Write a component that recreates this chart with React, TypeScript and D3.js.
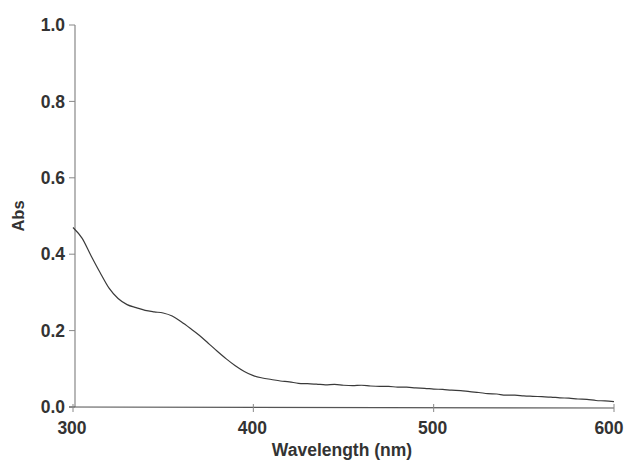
import React from "react";
import * as d3 from "d3";

const wavelengths: number[] = d3.range(300, 601, 5);
const absorbance: number[] = [
  0.470, 0.442, 0.396, 0.352, 0.311, 0.284, 0.268, 0.260, 0.253, 0.249,
  0.246, 0.238, 0.223, 0.206, 0.188, 0.167, 0.146, 0.126, 0.108, 0.093,
  0.082, 0.076, 0.072, 0.068, 0.066, 0.062, 0.061, 0.060, 0.058, 0.059,
  0.057, 0.056, 0.057, 0.055, 0.054, 0.054, 0.052, 0.052, 0.050, 0.049,
  0.047, 0.046, 0.044, 0.043, 0.040, 0.038, 0.035, 0.034, 0.031, 0.031,
  0.029, 0.028, 0.027, 0.026, 0.024, 0.023, 0.021, 0.020, 0.017, 0.016, 0.014,
];
const xTicks: number[] = [300, 400, 500, 600];
const yTicks: number[] = [0.0, 0.2, 0.4, 0.6, 0.8, 1.0];
const xLabel = "Wavelength (nm)";
const yLabel = "Abs";

export default function App() {
  const W = 626, H = 466;
  const x = d3.scaleLinear().domain([300, 600]).range([73, 614]);
  const y = d3.scaleLinear().domain([0, 1]).range([407, 25]);
  const data = wavelengths.map((w, i) => [w, absorbance[i]] as [number, number]);
  const line = d3.line<[number, number]>().x(d => x(d[0])).y(d => y(d[1])).curve(d3.curveMonotoneX);
  const font = "Arial, 'Liberation Sans', sans-serif";
  const txt = "#333";
  const ax = x(300) + 2;
  return (
    <svg width={W} height={H} style={{ position: "absolute", left: 0, top: 0, background: "#fff" }}>
      {/* y axis */}
      <line x1={ax} x2={ax} y1={y(1)} y2={y(0)} stroke="#888" strokeWidth={1.2} />
      {yTicks.map(t => (
        <g key={t}>
          <line x1={ax - 6} x2={ax} y1={y(t)} y2={y(t)} stroke="#888" strokeWidth={1} />
          <text x={ax - 10} y={y(t)} dy="0.35em" textAnchor="end" fontFamily={font} fontWeight="bold" fontSize={17.5} fill={txt}>
            {d3.format(".1f")(t)}
          </text>
        </g>
      ))}
      {/* x axis */}
      <line x1={ax - 6} x2={x(600)} y1={y(0)} y2={y(0) + 1} stroke="#555" strokeWidth={1.2} />
      {xTicks.map(t => (
        <g key={t}>
          <line x1={x(t)} x2={x(t)} y1={y(0) - 3} y2={y(0) + 5} stroke="#888" strokeWidth={1} />
          <text x={Math.min(x(t) - 1, W - 17)} y={y(0) + 21} dy="0.35em" textAnchor="middle" fontFamily={font} fontWeight="bold" fontSize={17.5} fill={txt}>
            {t}
          </text>
        </g>
      ))}
      <text x={342} y={450} dy="0.35em" textAnchor="middle" fontFamily={font} fontWeight="bold" fontSize={17.5} fill={txt}>
        {xLabel}
      </text>
      <text transform={`translate(18,216) rotate(-90)`} dy="0.35em" textAnchor="middle" fontFamily={font} fontWeight="bold" fontSize={16.5} fill={txt}>
        {yLabel}
      </text>
      <path d={line(data) || ""} fill="none" stroke="#3a3a3a" strokeWidth={1.2} />
    </svg>
  );
}
